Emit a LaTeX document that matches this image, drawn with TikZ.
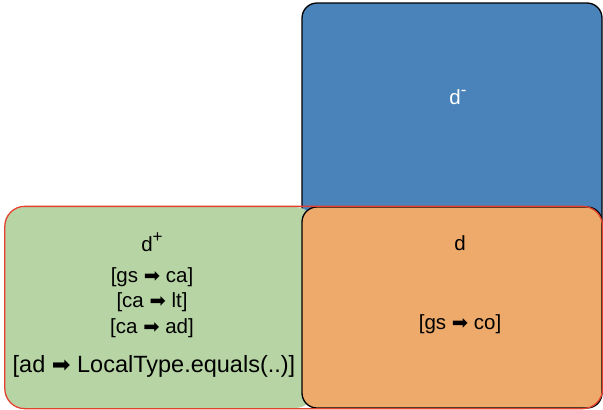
\documentclass[tikz,border=0pt]{standalone}
\usepackage{fontspec}
\setmainfont{Liberation Sans}
\newfontfamily\dingfont{DejaVu Sans}
\usetikzlibrary{positioning, fit}
\definecolor{setblue}{HTML}{4A83B9}
\definecolor{setorange}{HTML}{EDAA6A}
\definecolor{setgreen}{HTML}{B7D4A4}
\definecolor{setred}{HTML}{E2412E}
\newcommand{\impl}{{\dingfont\scalebox{0.95}{➡}}}
\newcommand{\supsign}[1]{\raisebox{0.42em}{\fontsize{17}{17}\selectfont #1}}

\begin{document}
\begin{tikzpicture}[
    x=1pt, y=-1pt,
    setbox/.style={
        rectangle, rounded corners=15pt, draw=black, line width=1.3pt,
        inner sep=0pt
    },
    groupbox/.style={
        rectangle, rounded corners=20pt, draw=setred, line width=1.3pt,
        inner sep=0pt
    },
    lbl/.style={font=\fontsize{20.5}{24}\selectfont, inner sep=1pt},
]
\useasboundingbox (0,0) rectangle (603,410);

% Sets (back to front)
\node[setbox, fill=setblue, minimum width=300pt, minimum height=230pt] (dminus) at (452,118) {};
\node[rectangle, rounded corners=20pt, fill=setgreen, minimum width=310pt, minimum height=201pt] (dplus) at (160,307.5) {};
\node[setbox, fill=setorange, minimum width=300pt, minimum height=201pt] (dzero) at (452,307.5) {};
\node[groupbox, fit=(dplus)(dzero)] (positive) {};

% Labels
\node[lbl, text=white] (dminuslbl) at (458,97) {d\supsign{-}};

\node[lbl] (dpluslbl) at (152,242) {d\supsign{+}};
\node[lbl] (rulegsca) at (152,277) {[gs \impl\ ca]};
\node[lbl] (rulecalt) at (152,302) {[ca \impl\ lt]};
\node[lbl] (rulecaad) at (152,328) {[ca \impl\ ad]};
\node[lbl, font=\fontsize{23.5}{28}\selectfont] (ruleadeq) at (154,366) {[ad \impl\ LocalType.equals(..)]};

\node[lbl] (dzerolbl) at (460,243) {d};
\node[lbl] (rulegsco) at (460,324) {[gs \impl\ co]};

\end{tikzpicture}
\end{document}
